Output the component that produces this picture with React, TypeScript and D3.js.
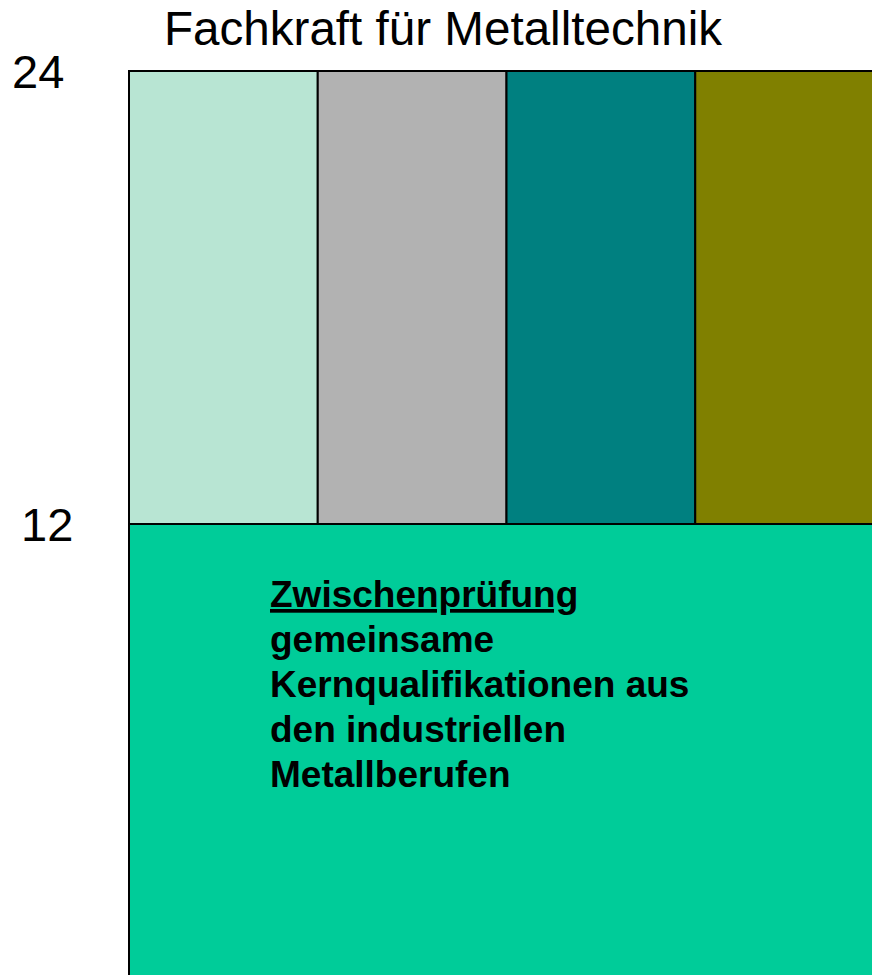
import React, { useEffect, useRef } from "react";
import * as d3 from "d3";

// months of training
const yTicks = [24, 12];
const phaseStart = [0, 12];
const phaseEnd = [12, 24];

// upper phase: four specialisation blocks
const blockIndex = [0, 1, 2, 3];
const blockColors = ["#B8E5D3", "#B2B2B2", "#008080", "#808000"];
const baseColor = "#00CC99";

const title = "Fachkraft für Metalltechnik";
const baseHeading = "Zwischenprüfung";
const baseLines = [
  "gemeinsame",
  "Kernqualifikationen aus",
  "den industriellen",
  "Metallberufen",
];

const width = 872;
const height = 975;

const App: React.FC = () => {
  const svgRef = useRef<SVGSVGElement>(null);

  useEffect(() => {
    if (!svgRef.current) return;
    d3.select(svgRef.current).selectAll("*").remove();
    const svg = d3.select(svgRef.current);
    const font = "Arial, 'Liberation Sans', sans-serif";

    const yScale = d3.scaleLinear().domain([0, 24]).range([977, 71]);
    const xScale = d3.scaleLinear().domain([0, 4]).range([129, 884]);

    // Title
    svg
      .append("text")
      .attr("x", 443)
      .attr("y", 45)
      .attr("text-anchor", "middle")
      .style("font-family", font)
      .style("font-size", "47.6px")
      .text(title);

    // Lower phase (shared core qualifications)
    svg
      .append("rect")
      .attr("x", xScale(0))
      .attr("y", yScale(phaseEnd[0]))
      .attr("width", xScale(4) - xScale(0))
      .attr("height", yScale(phaseStart[0]) - yScale(phaseEnd[0]))
      .attr("fill", baseColor)
      .attr("stroke", "#000")
      .attr("stroke-width", 2);

    // Upper phase blocks
    svg
      .selectAll(".block")
      .data(blockIndex)
      .enter()
      .append("rect")
      .attr("class", "block")
      .attr("x", (d) => xScale(d))
      .attr("y", yScale(phaseEnd[1]))
      .attr("width", (d) => xScale(d + 1) - xScale(d))
      .attr("height", yScale(phaseStart[1]) - yScale(phaseEnd[1]))
      .attr("fill", (d) => blockColors[d])
      .attr("stroke", "#000")
      .attr("stroke-width", 2);

    // Tick labels
    svg
      .selectAll(".tick-label")
      .data(yTicks)
      .enter()
      .append("text")
      .attr("class", "tick-label")
      .attr("x", (d) => (d === 24 ? 12 : 21))
      .attr("y", (d) => yScale(d))
      .attr("dy", "0.36em")
      .style("font-family", font)
      .style("font-size", "47px")
      .text((d) => String(d));

    // Text block inside the lower phase
    const tx = 270;
    const t0 = 607;
    const lh = 45;
    svg
      .append("text")
      .attr("x", tx)
      .attr("y", t0)
      .style("font-family", font)
      .style("font-size", "37px")
      .style("font-weight", "bold")
      .style("text-decoration", "underline")
      .text(baseHeading);

    svg
      .selectAll(".base-line")
      .data(baseLines)
      .enter()
      .append("text")
      .attr("class", "base-line")
      .attr("x", tx)
      .attr("y", (_, i) => t0 + lh * (i + 1))
      .style("font-family", font)
      .style("font-size", "37px")
      .style("font-weight", "bold")
      .text((d) => d);
  }, []);

  return (
    <svg
      ref={svgRef}
      width={width}
      height={height}
      style={{ position: "absolute", left: 0, top: 0, display: "block", background: "#fff" }}
    />
  );
};

export default App;
